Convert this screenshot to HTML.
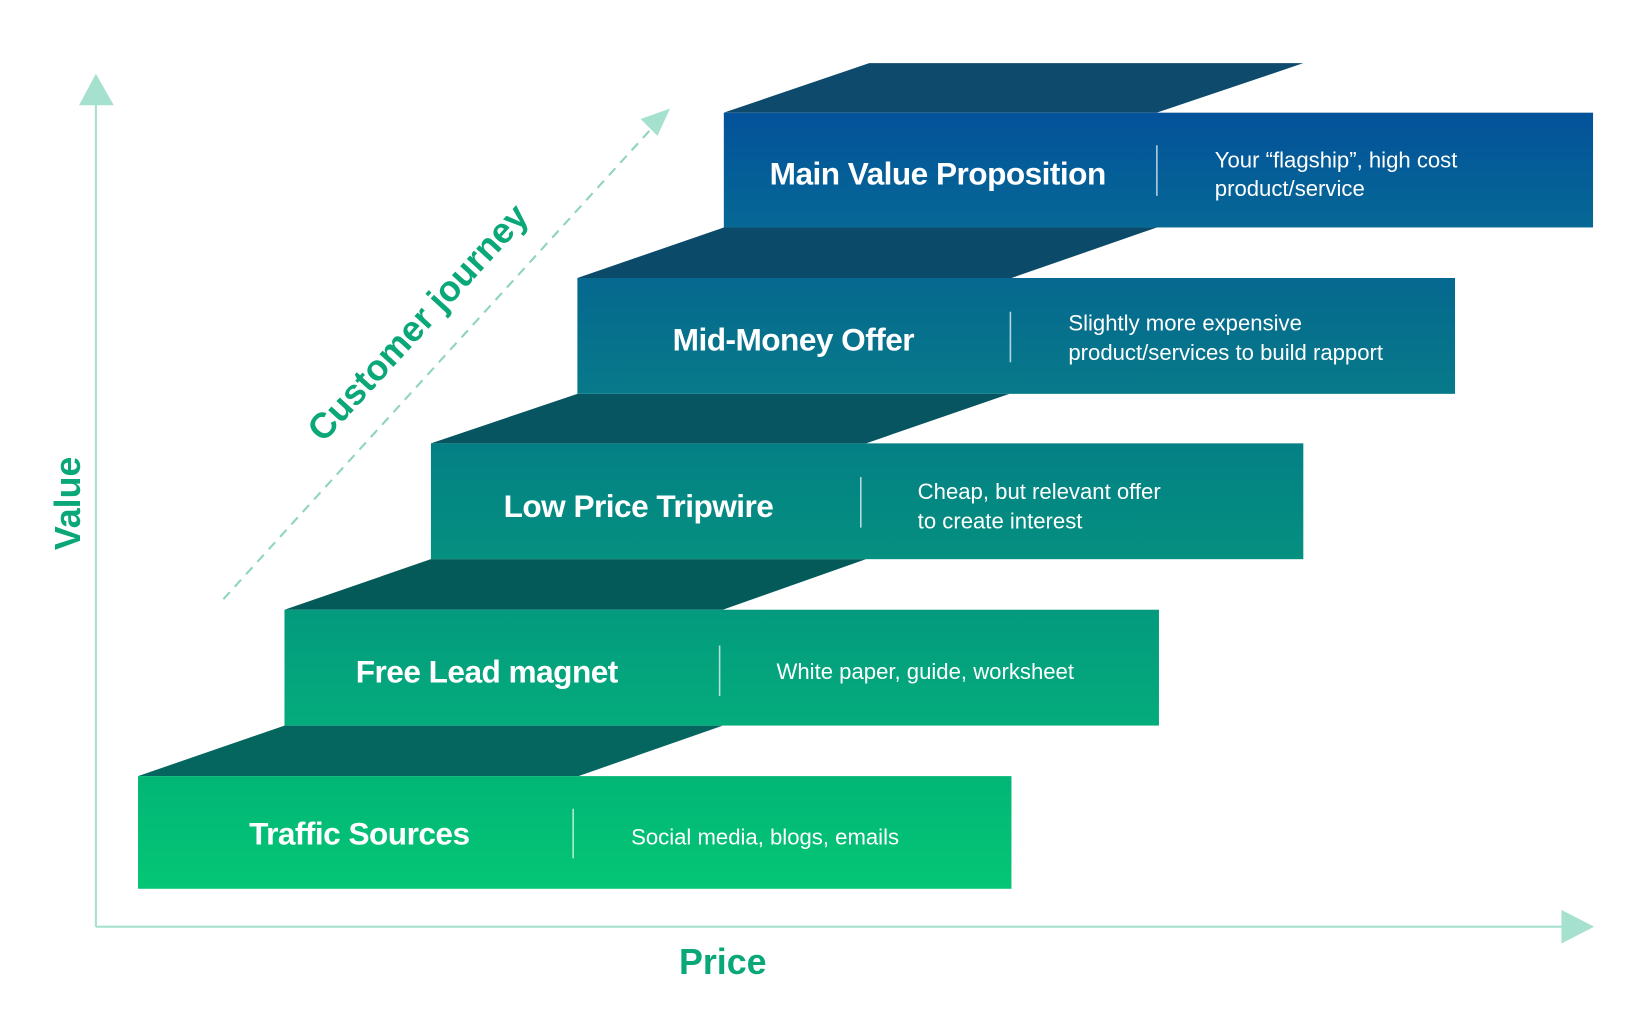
<!DOCTYPE html>
<html><head><meta charset="utf-8"><style>
html,body{margin:0;padding:0;background:#fff;}
svg{display:block;}
text{font-family:"Liberation Sans",Arial,sans-serif;}
.l{fill:#fff;font-weight:bold;font-size:30px;text-anchor:middle;letter-spacing:-0.5px;}
.d{fill:#fff;font-size:21px;}
.a{fill:#0aa778;font-weight:bold;}
</style></head><body>
<svg width="1651" height="1012" viewBox="0 0 1567 961" xmlns="http://www.w3.org/2000/svg" preserveAspectRatio="none">
<defs>
<linearGradient id="g1" x1="0" y1="0" x2="0" y2="1"><stop offset="0" stop-color="#02b676"/><stop offset="1" stop-color="#04c675"/></linearGradient>
<linearGradient id="g2" x1="0" y1="0" x2="0" y2="1"><stop offset="0" stop-color="#039a7e"/><stop offset="1" stop-color="#04ac7c"/></linearGradient>
<linearGradient id="g3" x1="0" y1="0" x2="0" y2="1"><stop offset="0" stop-color="#048085"/><stop offset="1" stop-color="#059080"/></linearGradient>
<linearGradient id="g4" x1="0" y1="0" x2="0" y2="1"><stop offset="0" stop-color="#06688f"/><stop offset="1" stop-color="#077a8a"/></linearGradient>
<linearGradient id="g5" x1="0" y1="0" x2="0" y2="1"><stop offset="0" stop-color="#03529a"/><stop offset="1" stop-color="#066895"/></linearGradient>
</defs>
<line x1="91" y1="96" x2="91" y2="880" stroke="#a6e0cf" stroke-width="2"/>
<polygon points="91,70 75,100 108,100" fill="#a6e0cf"/>
<line x1="91" y1="880" x2="1488" y2="880" stroke="#a6e0cf" stroke-width="2"/>
<polygon points="1513,880 1482,864 1482,896" fill="#a6e0cf"/>
<line x1="212" y1="569" x2="622" y2="118" stroke="#8fd4c0" stroke-width="2" stroke-dasharray="9,7"/>
<polygon points="636,103 608,113 624,129" fill="#a6e0cf"/>
<text class="a" font-size="34" transform="translate(405,314) rotate(-47.5)" text-anchor="middle">Customer journey</text>
<text class="a" font-size="34" transform="translate(76,478) rotate(-90)" text-anchor="middle">Value</text>
<text class="a" font-size="34" x="686" y="925" text-anchor="middle">Price</text>
<polygon points="131,737 549,737 686,689 270,689" fill="#05665f"/>
<polygon points="270,579 686,579 822,531 409,531" fill="#035a58"/>
<polygon points="409,421 822,421 958,374 548,374" fill="#065560"/>
<polygon points="548,264 960,264 1098,216 687,216" fill="#0c4a6a"/>
<polygon points="687,107 1098,107 1237,60 825,60" fill="#0d4a6c"/>
<rect x="131" y="737" width="829" height="107" fill="url(#g1)"/>
<rect x="270" y="579" width="830" height="110" fill="url(#g2)"/>
<rect x="409" y="421" width="828" height="110" fill="url(#g3)"/>
<rect x="548" y="264" width="833" height="110" fill="url(#g4)"/>
<rect x="687" y="107" width="825" height="109" fill="url(#g5)"/>
<g stroke="#ffffff" stroke-opacity="0.7" stroke-width="1.5">
<line x1="544" y1="768" x2="544" y2="815"/>
<line x1="683" y1="613" x2="683" y2="661"/>
<line x1="817" y1="453" x2="817" y2="501"/>
<line x1="959" y1="296" x2="959" y2="344"/>
<line x1="1098" y1="138" x2="1098" y2="186"/>
</g>
<text class="l" x="341" y="802">Traffic Sources</text>
<text class="l" x="462" y="648">Free Lead magnet</text>
<text class="l" x="606" y="491">Low Price Tripwire</text>
<text class="l" x="753" y="333">Mid-Money Offer</text>
<text class="l" x="890" y="175">Main Value Proposition</text>
<text class="d" x="599" y="802">Social media, blogs, emails</text>
<text class="d" x="737" y="645">White paper, guide, worksheet</text>
<text class="d" x="871" y="474">Cheap, but relevant offer</text>
<text class="d" x="871" y="502">to create interest</text>
<text class="d" x="1014" y="314">Slightly more expensive</text>
<text class="d" x="1014" y="342">product/services to build rapport</text>
<text class="d" x="1153" y="159">Your “flagship”, high cost</text>
<text class="d" x="1153" y="186">product/service</text>
</svg>
</body></html>
